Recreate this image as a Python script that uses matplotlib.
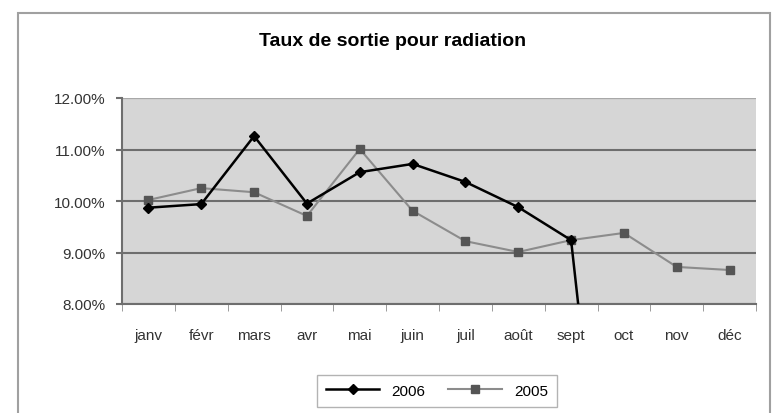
import matplotlib
matplotlib.use('Agg')
import matplotlib.pyplot as plt
from matplotlib.patches import Rectangle
from matplotlib.ticker import FuncFormatter, FixedLocator

months = ['janv', 'févr', 'mars', 'avr', 'mai', 'juin', 'juil', 'août', 'sept', 'oct', 'nov', 'déc']
taux_2006 = [9.87, 9.94, 11.26, 9.95, 10.56, 10.72, 10.37, 9.88, 9.24, 0, 0, 0]
taux_2005 = [10.02, 10.25, 10.17, 9.71, 11.01, 9.81, 9.22, 9.01, 9.24, 9.38, 8.72, 8.66]
y_ticks = [8, 9, 10, 11, 12]

plt.rcParams['font.family'] = ['Liberation Sans', 'DejaVu Sans']

fig = plt.figure(figsize=(7.78, 4.14), dpi=100)
fig.patch.set_facecolor('white')

# cadre extérieur du graphique
fig.patches.append(Rectangle((18 / 778, -0.01), (770 - 18) / 778, 1 - 14 / 414 + 0.01,
                             transform=fig.transFigure, fill=False,
                             edgecolor='#a0a0a0', linewidth=1.5))

ax = fig.add_axes([122 / 778, 1 - 305 / 414, (756 - 122) / 778, (305 - 99) / 414])
ax.set_facecolor('#d6d6d6')

x = list(range(len(months)))
ax.plot(x, taux_2005, color='#8c8c8c', linewidth=1.5, marker='s', markersize=6,
        markerfacecolor='#555555', markeredgecolor='#555555', label='2005', zorder=3)
ax.plot(x, taux_2006, color='black', linewidth=1.8, marker='D', markersize=5.5,
        markerfacecolor='black', markeredgecolor='black', label='2006', zorder=4)

ax.set_xlim(-0.5, len(months) - 0.5)
ax.set_ylim(8, 12)
ax.set_yticks(y_ticks)
ax.yaxis.set_major_formatter(FuncFormatter(lambda v, p: f'{v:.2f}%'))
ax.yaxis.grid(True, color='#6e6e6e', linewidth=1.5)
ax.set_axisbelow(True)

ax.set_xticks(x)
ax.set_xticklabels(months)
ax.xaxis.set_minor_locator(FixedLocator([i + 0.5 for i in range(-1, len(months))]))
ax.tick_params(axis='x', which='major', length=0, pad=17, labelsize=11, colors='#333333')
ax.tick_params(axis='x', which='minor', length=5, color='#8c8c8c', direction='out')
ax.tick_params(axis='y', length=4, width=1.5, color='#6e6e6e', labelsize=11, labelcolor='#333333', pad=8)

for s in ['top', 'right']:
    ax.spines[s].set_visible(False)
ax.spines['left'].set_color('#6e6e6e')
ax.spines['left'].set_linewidth(1.5)
ax.spines['bottom'].set_color('#6e6e6e')
ax.spines['bottom'].set_linewidth(1.5)
# bord supérieur plus clair
ax.axhline(12, color='#a8a8a8', linewidth=1.5, zorder=2)

fig.text(393 / 778, 1 - 42 / 414, 'Taux de sortie pour radiation', ha='center', va='center',
         fontsize=14, fontweight='bold')

handles, labels = ax.get_legend_handles_labels()
leg = fig.legend(handles[::-1], labels[::-1], loc='upper center', ncol=2,
                 bbox_to_anchor=(437 / 778, 1 - 368 / 414), frameon=True, fancybox=False,
                 edgecolor='#a0a0a0', fontsize=11, handlelength=3.5, columnspacing=1.5,
                 borderpad=0.6)
leg.get_frame().set_linewidth(1)

fig.savefig('out.png', dpi=100, facecolor='white')
